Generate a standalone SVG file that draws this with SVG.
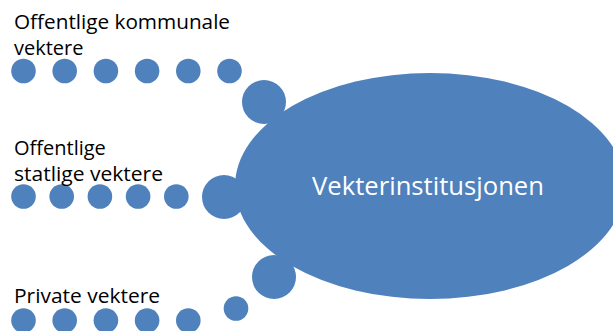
<svg xmlns="http://www.w3.org/2000/svg" width="613" height="331" viewBox="0 0 613 331">
<style>
.dot{fill:#4F81BD}
.lbl{font-family:"Open Sans","Liberation Sans",sans-serif;font-size:20px;fill:#000}
.ctr{font-family:"Open Sans","Liberation Sans",sans-serif;font-size:25.5px;fill:#fff;text-anchor:middle}
</style>
<rect width="613" height="331" fill="#fff"/>
<g id="connectors">
  <g id="trail-kommunale">
    <circle class="dot" cx="23.5" cy="71" r="12.3"/>
    <circle class="dot" cx="64.7" cy="71" r="12.3"/>
    <circle class="dot" cx="105.9" cy="71" r="12.3"/>
    <circle class="dot" cx="147.1" cy="71" r="12.3"/>
    <circle class="dot" cx="188.3" cy="71" r="12.3"/>
    <circle class="dot" cx="229.5" cy="71" r="12.3"/>
    <circle class="dot" cx="264" cy="102" r="22"/>
  </g>
  <g id="trail-statlige">
    <circle class="dot" cx="23.5" cy="196.5" r="12.3"/>
    <circle class="dot" cx="61.7" cy="196.5" r="12.3"/>
    <circle class="dot" cx="99.9" cy="196.5" r="12.3"/>
    <circle class="dot" cx="138.1" cy="196.5" r="12.3"/>
    <circle class="dot" cx="176.3" cy="196.5" r="12.3"/>
    <circle class="dot" cx="224" cy="197" r="22"/>
  </g>
  <g id="trail-private">
    <circle class="dot" cx="23.5" cy="320.5" r="12.3"/>
    <circle class="dot" cx="64.7" cy="320.5" r="12.3"/>
    <circle class="dot" cx="105.9" cy="320.5" r="12.3"/>
    <circle class="dot" cx="147.1" cy="320.5" r="12.3"/>
    <circle class="dot" cx="188.3" cy="320.5" r="12.3"/>
    <circle class="dot" cx="236" cy="308.5" r="12.3"/>
    <circle class="dot" cx="274" cy="277" r="22"/>
  </g>
</g>
<g id="node-center">
  <ellipse class="dot" cx="430" cy="186" rx="195" ry="113"/>
  <text class="ctr" x="428" y="195" textLength="232" lengthAdjust="spacingAndGlyphs">Vekterinstitusjonen</text>
</g>
<g id="node-kommunale">
  <text class="lbl" x="14" y="29" textLength="216" lengthAdjust="spacingAndGlyphs">Offentlige kommunale</text>
  <text class="lbl" x="14" y="55">vektere</text>
</g>
<g id="node-statlige">
  <text class="lbl" x="14" y="155">Offentlige</text>
  <text class="lbl" x="14" y="181" textLength="149" lengthAdjust="spacingAndGlyphs">statlige vektere</text>
</g>
<g id="node-private">
  <text class="lbl" x="14" y="303" textLength="146" lengthAdjust="spacingAndGlyphs">Private vektere</text>
</g>
</svg>
